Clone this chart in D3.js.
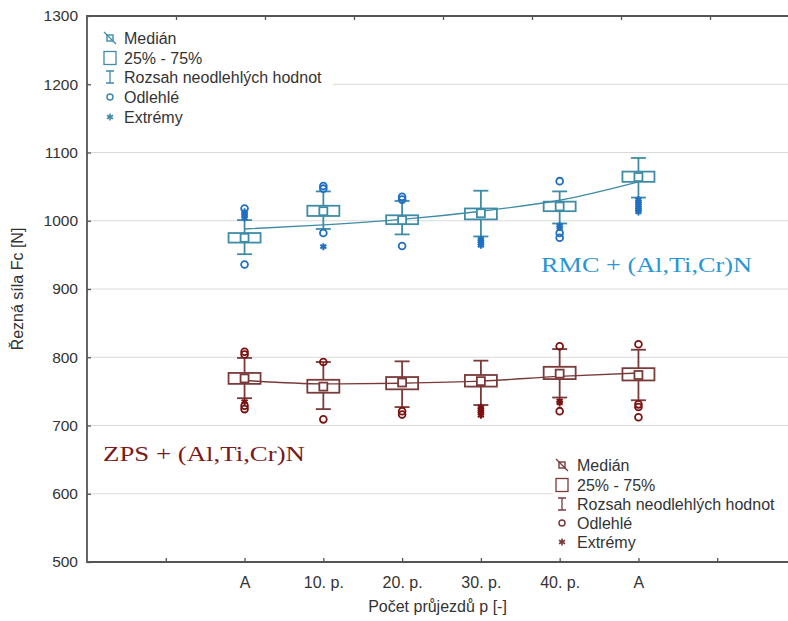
<!DOCTYPE html>
<html>
<head>
<meta charset="utf-8">
<script src="https://cdn.jsdelivr.net/npm/d3@7"></script>
<style>
  body { margin: 0; background: #fff; }
  text { font-family: "Liberation Sans", Arial, sans-serif; }
</style>
</head>
<body>
<svg id="chart" width="788" height="621"></svg>
<script>
// Categories on the x axis and the slot each one occupies (axis runs 0..9)
const categories = ["A", "10. p.", "20. p.", "30. p.", "40. p.", "A"];
const slots = [2, 3, 4, 5, 6, 7];
const yTicks = [500, 600, 700, 800, 900, 1000, 1100, 1200, 1300];
const legendLabels = ["Medián", "25% - 75%", "Rozsah neodlehlých hodnot", "Odlehlé", "Extrémy"];

// RMC + (Al,Ti,Cr)N  – cutting force Fc [N]
const rmcMedian = [975, 1014, 1001, 1011, 1021, 1064];
const rmcQ1     = [968, 1007,  995, 1002, 1014, 1057];
const rmcQ3     = [982, 1022, 1008, 1018, 1028, 1072];
const rmcLow    = [951,  988,  980,  977,  996, 1034];
const rmcHigh   = [1001, 1043, 1029, 1044, 1043, 1092];
const rmcOutliers = [[1018, 936], [1051, 1047, 982], [1035, 1031, 963], [], [1058, 982, 975], []];
const rmcExtremes = [[1013, 1010, 1007, 1004], [962], [], [973, 970, 967, 964], [993, 990],
                     [1031, 1028, 1025, 1022, 1019, 1016, 1013]];
const rmcTrend  = [988, 994, 1002, 1014, 1030, 1057];

// ZPS + (Al,Ti,Cr)N
const zpsMedian = [769, 757, 763, 765, 776, 774];
const zpsQ1     = [761, 748, 753, 757, 768, 766];
const zpsQ3     = [777, 767, 771, 774, 786, 784];
const zpsLow    = [740, 724, 727, 730, 741, 737];
const zpsHigh   = [799, 793, 794, 795, 812, 811];
const zpsOutliers = [[808, 804, 729, 724], [793, 709], [721, 716], [], [816, 721], [819, 731, 727, 712]];
const zpsExtremes = [[735], [], [], [727, 724, 721, 718, 715], [736, 733], []];
const zpsTrend  = [766, 761, 762, 765, 772, 777];

const svg = d3.select("#chart");
const plotLeft = 87, plotTop = 16, plotBottom = 562, plotRight = 788;

const x = d3.scaleLinear().domain([0, 9]).range([plotLeft, 796]);
const xTop = d3.scaleLinear().domain([0, 8]).range([plotLeft, 799]);
const y = d3.scaleLinear().domain([500, 1300]).range([plotBottom, plotTop]);

const axisColor = "#555";
const textColor = "#333";
const serif = "'Liberation Serif', 'Times New Roman', serif";

// horizontal grid
svg.append("g").selectAll("line")
  .data(yTicks.filter(v => v > 500 && v < 1300))
  .join("line")
  .attr("x1", plotLeft).attr("x2", plotRight)
  .attr("y1", d => y(d)).attr("y2", d => y(d))
  .attr("stroke", "#dadada").attr("stroke-width", 1);

// legend panels hide the grid behind them
svg.append("rect").attr("x", 90).attr("y", 19).attr("width", 243).attr("height", 110).attr("fill", "#fff");
svg.append("rect").attr("x", 553).attr("y", 452).attr("width", 235).attr("height", 106).attr("fill", "#fff");

// y axis
const yAxis = svg.append("g").attr("transform", `translate(${plotLeft},0)`)
  .call(d3.axisLeft(y).tickValues(yTicks).tickFormat(d3.format("d"))
        .tickSizeInner(-4).tickSizeOuter(0).tickPadding(9));
yAxis.select(".domain").remove();
yAxis.selectAll("line").attr("stroke", axisColor).attr("stroke-width", 1.3);
yAxis.selectAll("text").attr("font-size", 15.5).attr("fill", textColor)
  .style("font-family", "'Liberation Sans', Arial, sans-serif");

// bottom axis with category labels
const xAxis = svg.append("g").attr("transform", `translate(0,${plotBottom})`)
  .call(d3.axisBottom(x).tickValues(d3.range(1, 9)).tickSizeInner(-4).tickSizeOuter(0).tickPadding(15)
        .tickFormat(d => { const i = slots.indexOf(d); return i >= 0 ? categories[i] : ""; }));
xAxis.select(".domain").remove();
xAxis.selectAll("line").attr("stroke", axisColor).attr("stroke-width", 1.3);
xAxis.selectAll("text").attr("font-size", 16).attr("fill", textColor)
  .style("font-family", "'Liberation Sans', Arial, sans-serif");

// top axis: ticks only
const xAxisTop = svg.append("g").attr("transform", `translate(0,${plotTop})`)
  .call(d3.axisTop(xTop).tickValues(d3.range(1, 9)).tickSizeInner(-4).tickSizeOuter(0).tickFormat(""));
xAxisTop.select(".domain").remove();
xAxisTop.selectAll("line").attr("stroke", axisColor).attr("stroke-width", 1.3);

// frame lines
svg.append("path")
  .attr("d", `M${plotRight},${plotTop}H${plotLeft}V${plotBottom}H${plotRight}`)
  .attr("fill", "none").attr("stroke", axisColor).attr("stroke-width", 1.8);

// axis titles
svg.append("text").attr("x", x(4.5) - 4).attr("y", 612).attr("text-anchor", "middle")
  .attr("font-size", 16).attr("fill", textColor).text("Počet průjezdů p [-]");
svg.append("text").attr("transform", `translate(23,289) rotate(-90)`)
  .attr("text-anchor", "middle").attr("font-size", 16).attr("fill", textColor)
  .text("Řezná síla Fc [N]");

const asterisk = d3.symbol().type(d3.symbolAsterisk).size(34);

function drawSeries(s, boxColor, pointColor) {
  const g = svg.append("g");
  const bw = 32, cw = 15;

  // smoothed trend through the groups
  g.append("path")
    .datum(s.trend)
    .attr("d", d3.line().x((d, i) => x(slots[i])).y(d => y(d)).curve(d3.curveMonotoneX))
    .attr("fill", "none").attr("stroke", boxColor).attr("stroke-width", 1.4);

  slots.forEach((slot, i) => {
    const cx = x(slot);
    const b = g.append("g").attr("stroke", boxColor).attr("stroke-width", 1.8).attr("fill", "none");
    // whiskers
    b.append("line").attr("x1", cx).attr("x2", cx).attr("y1", y(s.high[i])).attr("y2", y(s.q3[i]));
    b.append("line").attr("x1", cx).attr("x2", cx).attr("y1", y(s.q1[i])).attr("y2", y(s.low[i]));
    b.append("line").attr("x1", cx - cw / 2).attr("x2", cx + cw / 2).attr("y1", y(s.high[i])).attr("y2", y(s.high[i]));
    b.append("line").attr("x1", cx - cw / 2).attr("x2", cx + cw / 2).attr("y1", y(s.low[i])).attr("y2", y(s.low[i]));
    // box
    b.append("rect").attr("x", cx - bw / 2).attr("y", y(s.q3[i]))
      .attr("width", bw).attr("height", y(s.q1[i]) - y(s.q3[i]));
    // median marker
    b.append("rect").attr("x", cx - 4).attr("y", y(s.median[i]) - 4)
      .attr("width", 8).attr("height", 8).attr("fill", "#fff");
    // outliers
    g.selectAll(null).data(s.outliers[i]).join("circle")
      .attr("cx", cx).attr("cy", d => y(d)).attr("r", 3.4)
      .attr("fill", "none").attr("stroke", pointColor).attr("stroke-width", 1.8);
    // extremes
    g.selectAll(null).data(s.extremes[i]).join("path")
      .attr("transform", d => `translate(${cx},${y(d)})`).attr("d", asterisk)
      .attr("fill", "none").attr("stroke", pointColor).attr("stroke-width", 2);
  });
}

drawSeries({ median: rmcMedian, q1: rmcQ1, q3: rmcQ3, low: rmcLow, high: rmcHigh,
             outliers: rmcOutliers, extremes: rmcExtremes, trend: rmcTrend }, "#3f8ca6", "#1f6fc2");
drawSeries({ median: zpsMedian, q1: zpsQ1, q3: zpsQ3, low: zpsLow, high: zpsHigh,
             outliers: zpsOutliers, extremes: zpsExtremes, trend: zpsTrend }, "#7b3a3a", "#7a1212");

function drawLegend(sx, tx, rows, color) {
  const g = svg.append("g");
  const [r0, r1, r2, r3, r4] = rows;
  // median icon
  g.append("rect").attr("x", sx - 3).attr("y", r0 - 3).attr("width", 6).attr("height", 6)
    .attr("fill", "none").attr("stroke", color).attr("stroke-width", 1.4);
  g.append("line").attr("x1", sx - 6).attr("y1", r0 - 6).attr("x2", sx + 6).attr("y2", r0 + 6)
    .attr("stroke", color).attr("stroke-width", 1.3);
  // box icon
  g.append("rect").attr("x", sx - 6).attr("y", r1 - 6.5).attr("width", 12).attr("height", 13)
    .attr("fill", "none").attr("stroke", color).attr("stroke-width", 1.3);
  // whisker icon
  g.append("path").attr("d", `M${sx - 4},${r2 - 6}H${sx + 4}M${sx},${r2 - 6}V${r2 + 6}M${sx - 4},${r2 + 6}H${sx + 4}`)
    .attr("fill", "none").attr("stroke", color).attr("stroke-width", 1.3);
  // outlier icon
  g.append("circle").attr("cx", sx).attr("cy", r3).attr("r", 3)
    .attr("fill", "none").attr("stroke", color).attr("stroke-width", 1.5);
  // extreme icon
  g.append("path").attr("transform", `translate(${sx},${r4})`).attr("d", asterisk)
    .attr("fill", "none").attr("stroke", color).attr("stroke-width", 1.6);

  g.selectAll("text").data(legendLabels).join("text")
    .attr("x", tx).attr("y", (d, i) => rows[i] + 5.5)
    .attr("font-size", 16).attr("fill", textColor).text(d => d);
}

drawLegend(110, 124, [38, 58, 77, 97, 117], "#3f8ca6");
drawLegend(562, 577, [465, 485, 504, 523, 542], "#7b3a3a");

// series captions
svg.append("text").attr("x", 541).attr("y", 272)
  .style("font-family", serif).attr("font-size", 22)
  .attr("textLength", 211).attr("lengthAdjust", "spacingAndGlyphs")
  .attr("fill", "#2a95d5").text("RMC + (Al,Ti,Cr)N");
svg.append("text").attr("x", 103).attr("y", 461)
  .style("font-family", serif).attr("font-size", 22)
  .attr("textLength", 202).attr("lengthAdjust", "spacingAndGlyphs")
  .attr("fill", "#7a1a1a").text("ZPS + (Al,Ti,Cr)N");
</script>
</body>
</html>
